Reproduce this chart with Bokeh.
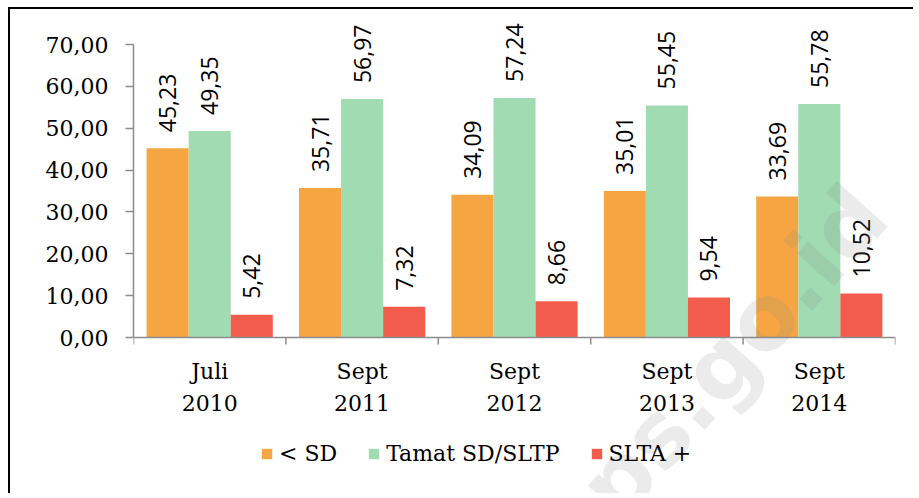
import math
from bokeh.plotting import figure
from bokeh.models import (Range1d, FixedTicker, Legend, LegendItem, Label, Span,
                          ColumnDataSource)
from bokeh.core.properties import value
from bokeh.embed import file_html
from bokeh.resources import INLINE

# ---- data ----
categories = ["Juli\n2010", "Sept\n2011", "Sept\n2012", "Sept\n2013", "Sept\n2014"]
below_sd = [45.23, 35.71, 34.09, 35.01, 33.69]
tamat_sd_sltp = [49.35, 56.97, 57.24, 55.45, 55.78]
slta_plus = [5.42, 7.32, 8.66, 9.54, 10.52]
series_names = ["< SD", "Tamat SD/SLTP", "SLTA +"]
y_ticks = [0, 10, 20, 30, 40, 50, 60, 70]
y_tick_labels = ["0,00", "10,00", "20,00", "30,00", "40,00", "50,00", "60,00", "70,00"]
watermark = "bps.go.id"

colors = ["#F5A642", "#A0DBB2", "#F25C4D"]
axis_gray = "#8C8C8C"
serif = "DejaVu Serif"
n = len(categories)
centers = [i + 0.5 for i in range(n)]
edges = list(range(n + 1))
y_max = y_ticks[-1]

# ---- layout geometry (pixels) ----
W, H = 905, 486
plot_h = 293            # pixel height of the 0..70 value span
zero_px = 328           # canvas y of value 0
ppu = plot_h / y_max
y_end = zero_px / ppu
y_start = -(H - zero_px) / ppu


def fmt(v):
    return f"{v:.2f}".replace(".", ",")


series = [below_sd, tamat_sd_sltp, slta_plus]

p = figure(x_range=Range1d(0, n), y_range=Range1d(y_start, y_end),
           width=W, height=H, output_backend="svg", toolbar_location=None,
           x_axis_location=None, y_axis_location="left",
           min_border_left=123, min_border_top=0, min_border_right=20, min_border_bottom=0)
p.styles = {"border-top": "2px solid black", "border-left": "2px solid black",
            "margin-left": "8px", "margin-top": "7px"}
p.outline_line_color = None
p.xgrid.visible = False
p.ygrid.visible = False
p.background_fill_color = "white"
p.border_fill_color = "white"

# y axis (real axis, bounded to 0..70)
ya = p.yaxis[0]
ya.ticker = FixedTicker(ticks=y_ticks)
ya.bounds = (y_ticks[0], y_ticks[-1])
ya.major_label_overrides = dict(zip(y_ticks, y_tick_labels))
ya.axis_line_color = axis_gray
ya.axis_line_width = 1.5
ya.major_tick_line_color = axis_gray
ya.major_tick_line_width = 1.5
ya.major_tick_out = 8
ya.major_tick_in = 0
ya.minor_tick_line_color = None
ya.major_label_standoff = 17
ya.major_label_text_font = serif
ya.major_label_text_font_size = "22px"
ya.major_label_text_color = "black"

# x axis line, boundary ticks and category labels
p.add_layout(Span(location=0, dimension="width", line_color=axis_gray, line_width=1.5))
tick_len = 7 / ppu
p.segment(x0=edges, y0=[0] * len(edges), x1=edges, y1=[-tick_len] * len(edges),
          line_color=axis_gray, line_width=1.5)
line1 = [c.split("\n")[0] for c in categories]
line2 = [c.split("\n")[1] for c in categories]
for txt, off in ((line1, 34), (line2, 65)):
    p.text(x=centers, y=[0] * n, text=txt, text_align="center", text_baseline="middle",
           y_offset=off, text_font=value(serif), text_font_size="22px", text_color="black")

# bars and value labels
bar_w = 0.276
offsets = [-bar_w, 0.0, bar_w]
renderers = []
for i in range(3):
    xs = [c + offsets[i] for c in centers]
    src = ColumnDataSource(dict(x=xs, top=series[i], lbl=[fmt(v) for v in series[i]]))
    r = p.vbar(x="x", top="top", bottom=0, width=bar_w, source=src,
               fill_color=colors[i], line_color=None)
    renderers.append(r)
    p.text(x="x", y="top", text="lbl", source=src,
           angle=math.pi / 2, text_align="left", text_baseline="middle", y_offset=-16,
           text_font=value("Open Sans"), text_font_size="23px", text_color="black")

legend = Legend(items=[LegendItem(label=series_names[i], renderers=[renderers[i]]) for i in range(3)],
                orientation="horizontal", location=(127, 29),
                border_line_color=None, background_fill_alpha=0,
                glyph_width=13, glyph_height=13, label_standoff=6, spacing=30,
                padding=0, margin=0,
                label_text_font=serif, label_text_font_size="22px", label_text_color="black")
p.add_layout(legend, "center")

wm = Label(x=3.79, y=-9.1, text=watermark, angle=math.radians(48),
           text_align="center", text_baseline="middle", text_font="DejaVu Sans",
           text_font_style="bold", text_font_size="90px", text_color="#888888", text_alpha=0.17)
p.add_layout(wm)

open("out.html", "w").write(file_html(p, INLINE))
